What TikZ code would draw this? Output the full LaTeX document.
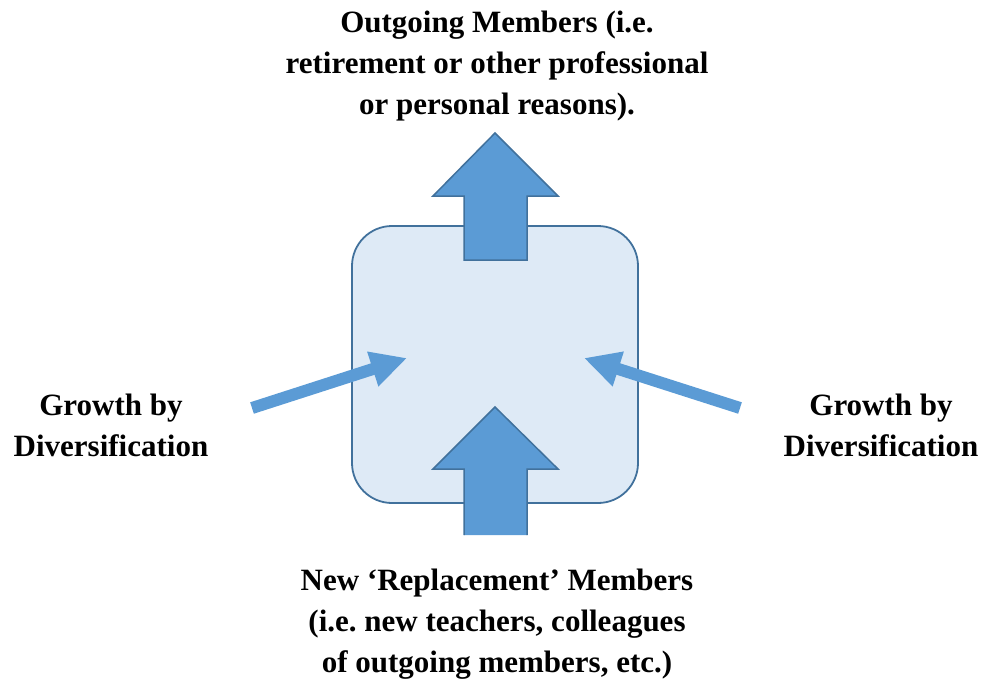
\documentclass[tikz,border=0pt]{standalone}
\usepackage{fontspec}
\setmainfont{Liberation Serif}
\usetikzlibrary{arrows.meta}
\definecolor{arrfill}{HTML}{5B9BD5}
\definecolor{arrline}{HTML}{41719C}
\definecolor{boxfill}{HTML}{DEEAF6}
\frenchspacing
\tikzset{
  lbl/.style={align=center,font=\bfseries\fontsize{31}{41}\selectfont,inner sep=0pt},
  bigarrow/.style={fill=arrfill,draw=arrline,line width=1.5pt,line join=miter},
  sidearrow/.style={draw=arrfill,line width=12pt,-{Triangle[length=36pt,width=34pt]}},
  panel/.style={fill=boxfill,draw=arrline,line width=1.8pt,rounded corners=40pt}
}
\begin{document}
\begin{tikzpicture}[x=1pt,y=-1pt]
\useasboundingbox (0,0) rectangle (987,683);
% central box
\draw[panel] (352,226) rectangle (638,503);
% top arrow
\draw[bigarrow] (464,260) -- (464,196) -- (433,196) -- (495,133) -- (558,196) -- (527,196) -- (527,260) -- cycle;
% bottom arrow
\draw[bigarrow] (464,535) -- (464,469) -- (433,469) -- (495,407) -- (558,469) -- (527,469) -- (527,535);
\fill[arrfill] (464.8,535) -- (464.8,468) -- (526.2,468) -- (526.2,535) -- cycle;
% side arrows
\coordinate (ls) at (252,408);
\coordinate (lt) at (407,358);
\coordinate (rs) at (740,408);
\coordinate (rtip) at (584,358);
\draw[sidearrow] (ls) -- (lt);
\draw[sidearrow] (rs) -- (rtip);
% labels
\node[lbl] (top) at (497,66) {Outgoing Members (i.e.\\retirement or other professional\\or personal reasons).};
\node[lbl] (bot) at (497,624) {New ‘Replacement’ Members\\(i.e.\ new teachers, colleagues\\of outgoing members, etc.)};
\node[lbl] (lg) at (111,425) {Growth by\\Diversification};
\node[lbl] (rg) at (881,425) {Growth by\\Diversification};
\end{tikzpicture}
\end{document}
